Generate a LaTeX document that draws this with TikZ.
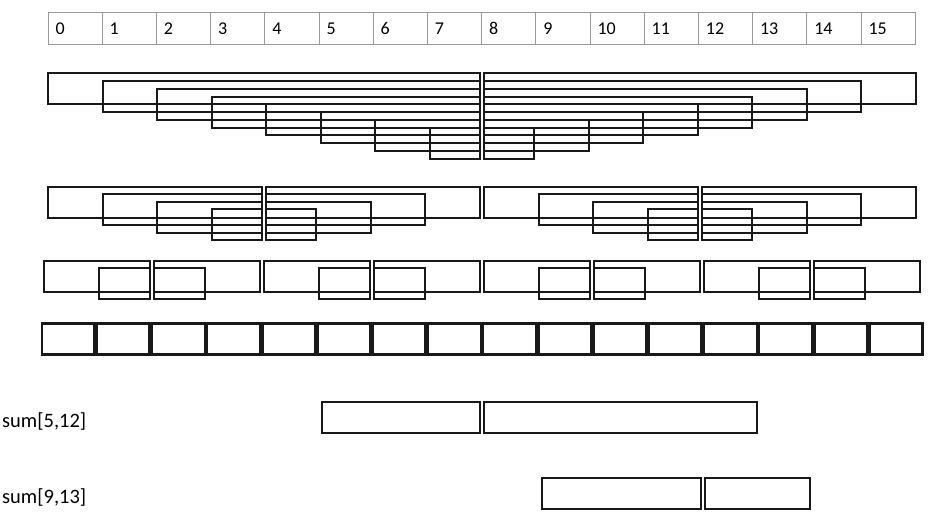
\documentclass[tikz,border=0pt]{standalone}
\usepackage{fontspec}
\setmainfont{Carlito}
\usetikzlibrary{positioning}

\newcommand{\sumrow}[6]{%
  \pgfmathtruncatemacro\half{#1/2}
  \pgfmathtruncatemacro\nlast{16/#1-1}
  \foreach \b in {0,...,\nlast}{
    \foreach \k in {1,...,\half}{
      \pgfmathsetmacro\ya{#2+(\k-1)*#3}
      \pgfmathsetmacro\xa{#4+#5*(\b*#1+\k-1)}
      \pgfmathsetmacro\xb{#4+#5*(\b*#1+\half)-#6}
      \pgfmathsetmacro\xc{#4+#5*(\b*#1+\half)}
      \pgfmathsetmacro\xd{#4+#5*(\b*#1+#1-\k+1)-#6}
      \draw[box] (\xa,\ya) rectangle (\xb,\ya+31);
      \draw[box] (\xc,\ya) rectangle (\xd,\ya+31);
    }
  }
}

\begin{document}
\begin{tikzpicture}[x=1pt,y=-1pt,
  hcell/.style={draw=gray!80,line width=0.8pt,outer sep=0pt,minimum height=32pt,
    text width=39.2pt,inner xsep=7.5pt,inner ysep=0pt,text height=12pt,text depth=0pt,
    align=left,font=\fontsize{18}{20}\selectfont},
  box/.style={draw=black!90,line width=2pt},
  lbl/.style={anchor=west,inner sep=0pt,font=\fontsize{20.5}{24}\selectfont}]
\useasboundingbox (0,0) rectangle (928,515);

\node[hcell,anchor=north west] (h0) at (48,12.3) {0};
\foreach \i [remember=\i as \j (initially 0)] in {1,...,15}
  \node[hcell,right=0pt of h\j] (h\i) {\i};

\sumrow{16}{73.3}{7.75}{48.3}{54.5}{4.5}
\sumrow{8}{186.7}{7.45}{48.3}{54.5}{4.5}
\sumrow{4}{261}{7.3}{44.3}{55}{4.5}
\begin{scope}[box/.append style={line width=2.4pt}]
\sumrow{2}{323.3}{0}{41.7}{55.19}{2.4}
\end{scope}

\node[lbl] (s512) at (2,421.7) {sum[5,12]};
\draw[box] (321.7,401.7) rectangle (480,433.3);
\draw[box] (484.3,401.7) rectangle (757.3,433.3);

\node[lbl] (s913) at (2,497.5) {sum[9,13]};
\draw[box] (542.3,477.7) rectangle (700.7,509);
\draw[box] (705,477.7) rectangle (810,509);
\end{tikzpicture}
\end{document}
